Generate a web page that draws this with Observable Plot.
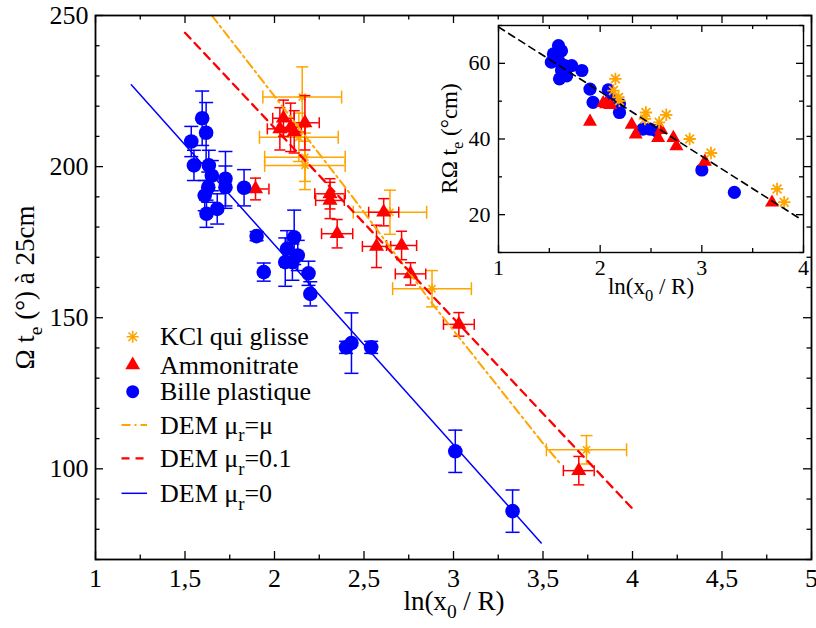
<!DOCTYPE html>
<html><head><meta charset="utf-8">
<script src="https://cdn.jsdelivr.net/npm/d3@7"></script>
<script src="https://cdn.jsdelivr.net/npm/@observablehq/plot@0.6"></script>
<style>
body{margin:0;background:#fff;}
#wrap{position:relative;width:816px;height:628px;overflow:hidden;font-family:'Liberation Serif';}
#main{position:absolute;left:0;top:0;}
#inset{position:absolute;left:430px;top:15px;}
svg{overflow:visible;}
.lab{position:absolute;text-align:center;white-space:nowrap;color:#000;font-family:'Liberation Serif';}
.lab sub{font-size:0.72em;vertical-align:-0.42em;line-height:0;}
.big{font-size:27px;line-height:27px;height:27px;}
.small{font-size:23px;line-height:23px;height:23px;}
</style></head><body><div id="wrap"><div id="main"></div><div id="inset"></div>
<div class="lab big" style="left:354px;top:588px;width:200px;">ln(x<sub>0</sub> / R)</div>
<div class="lab big" style="left:-125px;top:273.5px;width:300px;transform:rotate(-90deg);">Ω t<sub>e</sub> (°) à 25cm</div>
<div class="lab small" style="left:551px;top:274.7px;width:200px;">ln(x<sub>0</sub> / R)</div>
<div class="lab small" style="left:299px;top:126.5px;width:300px;transform:rotate(-90deg);">RΩ t<sub>e</sub> (°cm)</div>
</div>
<script>
// ---------- data (main chart) ----------
// Bille plastique: [x, y, yErr]
const billeMain = [[1.535,208.3,5],[1.55,200.4,5],[1.596,216,9],[1.618,211.2,10],[1.61,190.4,5],[1.62,184.4,4.5],[1.633,200.4,5],[1.65,197,5],[1.63,193.2,5],[1.68,186,5],[1.726,196,9],[1.726,193.2,7],[1.83,193,6],[1.90,177,1.5],[1.94,165.1,3],[2.06,168.4,8],[2.07,172.8,6],[2.10,168.4,6],[2.11,176.6,9],[2.13,170.6,5],[2.19,164.7,4],[2.20,157.9,4],[2.40,140.2,2],[2.43,141.6,10],[2.54,140.2,2],[3.01,105.8,7],[3.33,86,7]];
// Ammonitrate: [x, y, xErr, yErr]
const ammoMain = [[1.894,192.6,0.075,3.6],[2.03,212.5,0.07,7],[2.05,216,0.06,6],[2.09,213,0.06,8],[2.11,211.5,0.06,7],[2.17,214.5,0.08,9],[2.31,191,0.085,5],[2.31,188.8,0.08,6],[2.35,177.8,0.087,4.7],[2.57,173.6,0.079,7],[2.61,184.9,0.084,4.5],[2.71,173.9,0.084,4.7],[2.76,164.5,0.085,3.7],[3.03,147.8,0.086,3.9],[3.70,99.4,0.086,4.7]];
// KCl qui glisse: [x, y, xErr, yErr]
const kclMain = [[2.155,223,0.22,10],[2.136,209.7,0.22,8],[2.17,203.1,0.225,8],[2.17,200.4,0.225,8],[2.645,184.9,0.205,7.3],[2.88,159.6,0.22,6],[3.743,106.3,0.224,4.7]];
// DEM curves
const demMu = [[1.65,250],[2.41,192],[2.89,154],[3.51,107.7],[3.6,101.5]];
const demMu01 = [[1.5,244.3],[4.0,86.8]];
const demMu0 = [[1.2,227.1],[3.49,75.5]];
// ---------- data (inset) ----------
const billeInset = [[1.54,62.5],[1.59,64.7],[1.62,63.3],[1.52,60.3],[1.60,60.3],[1.65,59.4],[1.72,59.4],[1.60,55.9],[1.67,56.7],[1.62,58.1],[1.82,58.1],[1.90,53.2],[1.93,49.7],[2.08,53],[2.11,50.6],[2.19,49.3],[2.19,47],[2.42,42.6],[2.49,42.6],[2.55,42.2],[3.0,31.8],[3.32,25.9]];
const ammoInset = [[1.90,44.6],[2.03,49.5],[2.06,49.2],[2.10,49.0],[2.31,43.8],[2.35,41.2],[2.57,40.3],[2.60,42.4],[2.72,40.3],[2.75,38.1],[3.03,34.0],[3.69,23.2]];
const kclInset = [[2.15,55.9],[2.13,52.8],[2.18,51],[2.19,50.1],[2.45,47],[2.44,45.3],[2.58,44.4],[2.65,46.4],[2.88,40],[3.09,36.3],[3.74,26.8],[3.81,23.3]];
const demFit = [[1,69.6],[3.95,19.2]];
// ---------- ticks ----------
const xMajor = [1,1.5,2,2.5,3,3.5,4,4.5,5];
const xMinor = [1.25,1.75,2.25,2.75,3.25,3.75,4.25,4.75];
const yMajor = [100,150,200,250];
const yMinor = [70,80,90,110,120,130,140,160,170,180,190,210,220,230,240];
const xMajorIn = [1,2,3,4];
const xMinorIn = [1.5,2.5,3.5];
const yMajorIn = [20,40,60];
const yMinorIn = [10,30,50,70];

const FONT = "Liberation Serif";
const blue = "#0000ff", red = "#ff0000", orange = "#ffa500";

const asterisk8 = {draw(ctx, size){const r=Math.sqrt(size/Math.PI), d=r*Math.SQRT1_2;
  ctx.moveTo(-r,0);ctx.lineTo(r,0);ctx.moveTo(0,-r);ctx.lineTo(0,r);
  ctx.moveTo(-d,-d);ctx.lineTo(d,d);ctx.moveTo(-d,d);ctx.lineTo(d,-d);}};
const hcap = {draw(ctx,size){const r=Math.sqrt(size/Math.PI);ctx.moveTo(-r,0);ctx.lineTo(r,0);}};
const vcap = {draw(ctx,size){const r=Math.sqrt(size/Math.PI);ctx.moveTo(0,-r);ctx.lineTo(0,r);}};

const B = billeMain.map(([x,y,ey])=>({x,y,ex:0,ey}));
const A = ammoMain.map(([x,y,ex,ey])=>({x,y,ex,ey}));
const K = kclMain.map(([x,y,ex,ey])=>({x,y,ex,ey}));

function errorBars(data, color, capH, capV){
  const s = {stroke:color, strokeWidth:1.5};
  const m = [
    Plot.ruleX(data,{x:"x",y1:d=>d.y-d.ey,y2:d=>d.y+d.ey,...s}),
    Plot.dot(data,{x:"x",y:d=>d.y-d.ey,symbol:hcap,r:capH,fill:"none",...s}),
    Plot.dot(data,{x:"x",y:d=>d.y+d.ey,symbol:hcap,r:capH,fill:"none",...s})
  ];
  if (capV) m.push(
    Plot.ruleY(data,{y:"y",x1:d=>d.x-d.ex,x2:d=>d.x+d.ex,...s}),
    Plot.dot(data,{x:d=>d.x-d.ex,y:"y",symbol:vcap,r:capV,fill:"none",...s}),
    Plot.dot(data,{x:d=>d.x+d.ex,y:"y",symbol:vcap,r:capV,fill:"none",...s})
  );
  return m;
}
function tickMarks(xMaj,xMin,yMaj,yMin,fw,fh,LM,Lm){
  const s={stroke:"black",strokeWidth:1.3};
  return [
    Plot.ruleX(xMaj,{x:d=>d,insetTop:fh-LM,...s}),
    Plot.ruleX(xMaj,{x:d=>d,insetBottom:fh-LM,...s}),
    Plot.ruleX(xMin,{x:d=>d,insetTop:fh-Lm,...s}),
    Plot.ruleX(xMin,{x:d=>d,insetBottom:fh-Lm,...s}),
    Plot.ruleY(yMaj,{y:d=>d,insetRight:fw-LM,...s}),
    Plot.ruleY(yMaj,{y:d=>d,insetLeft:fw-LM,...s}),
    Plot.ruleY(yMin,{y:d=>d,insetRight:fw-Lm,...s}),
    Plot.ruleY(yMin,{y:d=>d,insetLeft:fw-Lm,...s})
  ];
}

const W=816,H=628,mL=95,mR=5,mT=15,mB=69;
const main = Plot.plot({
  width:W,height:H,marginLeft:mL,marginRight:mR,marginTop:mT,marginBottom:mB,
  style:{fontFamily:FONT,fontSize:"26px",color:"black",background:"white"},
  x:{domain:[1,5],ticks:xMajor,tickSize:0,tickPadding:9,label:null,tickFormat:d=>String(d).replace(".",",")},
  y:{domain:[70,250],ticks:yMajor,tickSize:0,tickPadding:7,label:null,tickFormat:d=>String(d)},
  marks:[
    ...tickMarks(xMajor,xMinor,yMajor,yMinor,W-mL-mR,H-mT-mB,8,4.5),
    ...errorBars(K,orange,6,6.5),
    Plot.dot(K,{x:"x",y:"y",symbol:asterisk8,r:5,stroke:orange,strokeWidth:1.6,fill:"none"}),
    ...errorBars(A,red,5.5,5.5),
    Plot.dot(A,{x:"x",y:"y",symbol:"triangle",r:5.6,fill:red,stroke:"none"}),
    ...errorBars(B,blue,7,0),
    Plot.dot(B,{x:"x",y:"y",r:7.3,fill:blue,stroke:"none"}),
    Plot.line(demMu,{x:d=>d[0],y:d=>d[1],stroke:orange,strokeWidth:2,strokeDasharray:"9,4,2,4"}),
    Plot.line(demMu01,{x:d=>d[0],y:d=>d[1],stroke:red,strokeWidth:2.3,strokeDasharray:"8,6"}),
    Plot.line(demMu0,{x:d=>d[0],y:d=>d[1],stroke:blue,strokeWidth:1.5}),
    Plot.frame({stroke:"black",strokeWidth:1.8})
  ]
});
document.getElementById("main").appendChild(main);

const iw=380,ih=290,iL=68,iR=7,iT=10,iB=53;
const inset = Plot.plot({
  width:iw,height:ih,marginLeft:iL,marginRight:iR,marginTop:iT,marginBottom:iB,
  style:{fontFamily:FONT,fontSize:"22px",color:"black",background:"transparent"},
  x:{domain:[1,4],ticks:xMajorIn,tickSize:0,tickPadding:7,label:null,tickFormat:d=>String(d)},
  y:{domain:[10,70],ticks:yMajorIn,tickSize:0,tickPadding:8,label:null,tickFormat:d=>String(d)},
  marks:[
    Plot.frame({fill:"white"}),
    ...tickMarks(xMajorIn,xMinorIn,yMajorIn,yMinorIn,iw-iL-iR,ih-iT-iB,7,4),
    Plot.dot(billeInset,{x:d=>d[0],y:d=>d[1],r:6.6,fill:blue,stroke:"none"}),
    Plot.dot(ammoInset,{x:d=>d[0],y:d=>d[1],symbol:"triangle",r:5.2,fill:red,stroke:"none"}),
    Plot.dot(kclInset,{x:d=>d[0],y:d=>d[1],symbol:asterisk8,r:6.2,stroke:orange,strokeWidth:1.8,fill:"none"}),
    Plot.line(demFit,{x:d=>d[0],y:d=>d[1],stroke:"black",strokeWidth:1.6,strokeDasharray:"7,5"}),
    Plot.frame({stroke:"black",strokeWidth:1.4})
  ]
});
document.getElementById("inset").appendChild(inset);

// ---------- legend ----------
const svg = d3.select(main);
function addText(g,{x,y,size,parts}){
  const t=g.append("text").attr("x",x).attr("y",y).attr("text-anchor","start")
    .style("font-family",FONT).style("font-size",size+"px").attr("fill","black");
  let shifted=false;
  for(const [s,sub] of parts){
    const ts=t.append("tspan").text(s);
    if(sub){ts.style("font-size",(size*0.72)+"px").attr("dy",size*0.3);shifted=true;}
    else if(shifted){ts.attr("dy",-size*0.3);shifted=false;}
  }
  return t;
}
const leg = svg.append("g");
const legendRows = [
  {parts:[["KCl qui glisse",0]],kind:"ast",color:orange,cy:336.7},
  {parts:[["Ammonitrate",0]],kind:"tri",color:red,cy:365},
  {parts:[["Bille plastique",0]],kind:"dot",color:blue,cy:391.7},
  {parts:[["DEM μ",0],["r",1],["=μ",0]],kind:"line",color:orange,dash:"9,4,2,4",w:2,cy:425},
  {parts:[["DEM μ",0],["r",1],["=0.1",0]],kind:"line",color:red,dash:"8,6",w:2.3,cy:458.3},
  {parts:[["DEM μ",0],["r",1],["=0",0]],kind:"line",color:blue,dash:null,w:1.5,cy:493.3}
];
for(const r of legendRows){
  if(r.kind==="line"){
    leg.append("line").attr("x1",121.5).attr("x2",147).attr("y1",r.cy).attr("y2",r.cy)
      .attr("stroke",r.color).attr("stroke-width",r.w).attr("stroke-dasharray",r.dash);
  } else {
    const sym = r.kind==="ast"?asterisk8:r.kind==="tri"?d3.symbolTriangle:d3.symbolCircle;
    const size = r.kind==="ast"?Math.PI*36:r.kind==="tri"?Math.PI*30:Math.PI*42;
    const p = leg.append("path").attr("d",d3.symbol(sym,size)()).attr("transform",`translate(132.7,${r.cy})`);
    if(r.kind==="ast") p.attr("fill","none").attr("stroke",r.color).attr("stroke-width",1.6);
    else p.attr("fill",r.color);
  }
  addText(leg,{x:160,y:r.cy+8.5,size:26,parts:r.parts});
}
</script></body></html>
